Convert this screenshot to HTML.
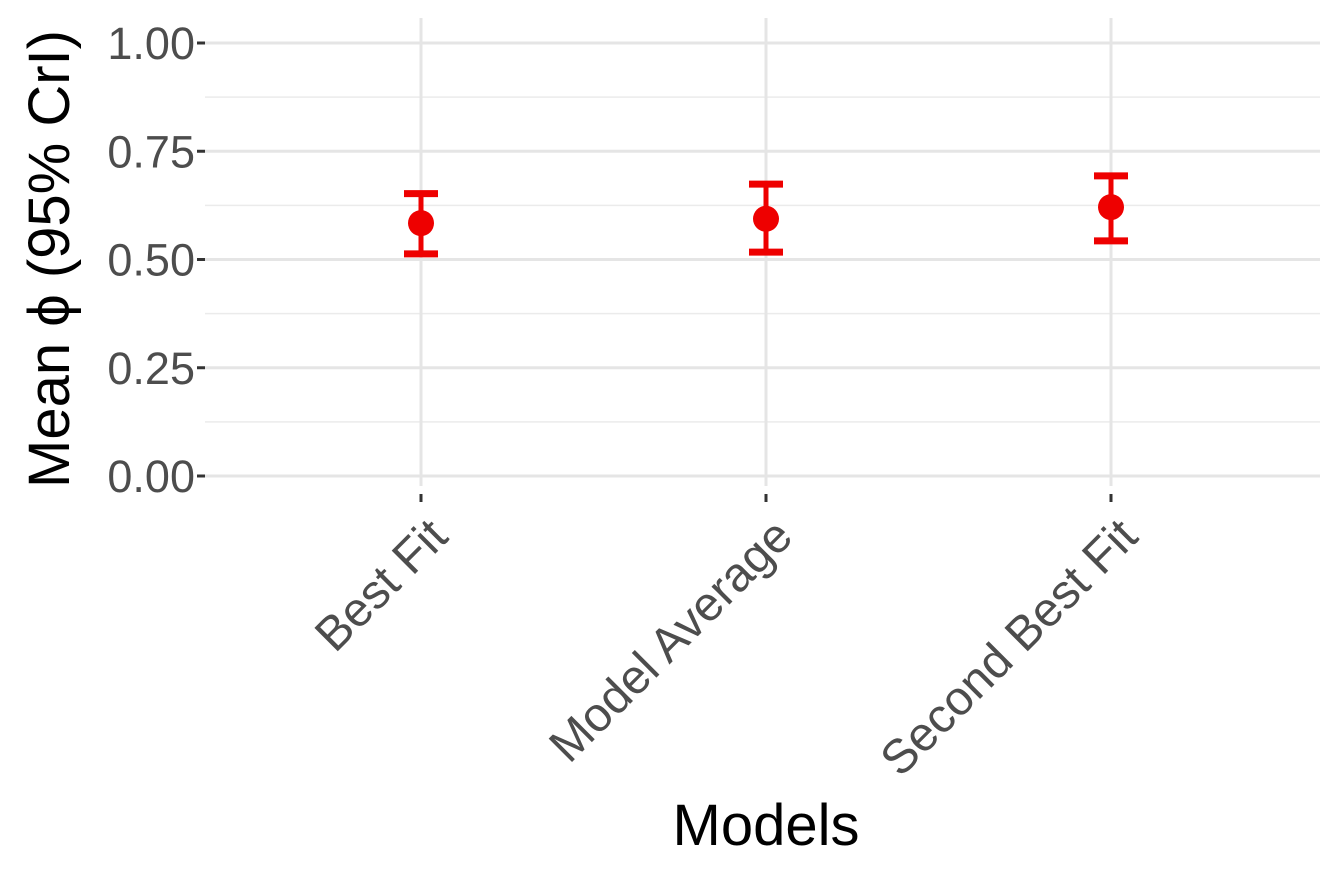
<!DOCTYPE html>
<html><head><meta charset="utf-8"><style>
body{margin:0;background:#fff;}
text{font-family:"Liberation Sans",sans-serif;}
</style></head><body>
<svg id="chart" width="1341" height="879" xmlns="http://www.w3.org/2000/svg">
<g id="grid"></g>
<g id="yaxis"></g>
<g id="xaxis"></g>
<g id="marks"></g>
<text x="766" y="845" font-size="58" text-anchor="middle" fill="#000">Models</text>
<text transform="translate(69,259) rotate(-90)" font-size="58" text-anchor="middle" fill="#000">Mean ϕ (95% CrI)</text>
</svg>
<script>
const categories=["Best Fit","Model Average","Second Best Fit"];
const means=[0.584,0.594,0.621];
const lowers=[0.513,0.517,0.543];
const uppers=[0.652,0.674,0.693];
const yTicks=[0,0.25,0.5,0.75,1];
const yTickLabels=["0.00","0.25","0.50","0.75","1.00"];
const yMinor=[0.125,0.375,0.625,0.875];
const NS="http://www.w3.org/2000/svg";
const L=205,R=1320;
const y=v=>476-v*433;
const x=i=>421+i*345;
function mk(tag,attrs,parent){const e=document.createElementNS(NS,tag);for(const k in attrs)e.setAttribute(k,attrs[k]);document.getElementById(parent).appendChild(e);return e;}
yMinor.forEach(v=>{const e=mk('line',{x1:L,x2:R,y1:y(v),y2:y(v),stroke:'#ebebeb','stroke-width':1.5},'grid');

});
yTicks.forEach((v,i)=>{const e=mk('line',{x1:L,x2:R,y1:y(v),y2:y(v),stroke:'#e5e5e5','stroke-width':3},'grid');


const t=mk('line',{x1:L-8,x2:L,y1:y(v),y2:y(v),stroke:'#333','stroke-width':3},'yaxis');


const l=mk('text',{x:L-10,y:y(v)+16,'font-size':45,'text-anchor':'end',fill:'#4d4d4d'},'yaxis');l.textContent=yTickLabels[i];

});
categories.forEach((c,i)=>{const g=mk('line',{x1:x(i),x2:x(i),y1:18,y2:486,stroke:'#e5e5e5','stroke-width':3},'grid');


const t=mk('line',{x1:x(i),x2:x(i),y1:494,y2:502,stroke:'#333','stroke-width':3},'xaxis');


const l=mk('text',{transform:`translate(${x(i)+29},${539}) rotate(-45)`,'font-size':48,'text-anchor':'end',fill:'#4d4d4d'},'xaxis');l.textContent=c;


const v=mk('line',{x1:x(i),x2:x(i),y1:y(uppers[i]),y2:y(lowers[i]),stroke:'#ee0000','stroke-width':5},'marks');


[uppers[i],lowers[i]].forEach(b=>{const cap=mk('line',{x1:x(i)-17,x2:x(i)+17,y1:y(b),y2:y(b),stroke:'#ee0000','stroke-width':7},'marks');

});
const p=mk('circle',{cx:x(i),cy:y(means[i]),r:13,fill:'#ee0000'},'marks');

});
</script>
</body></html>
